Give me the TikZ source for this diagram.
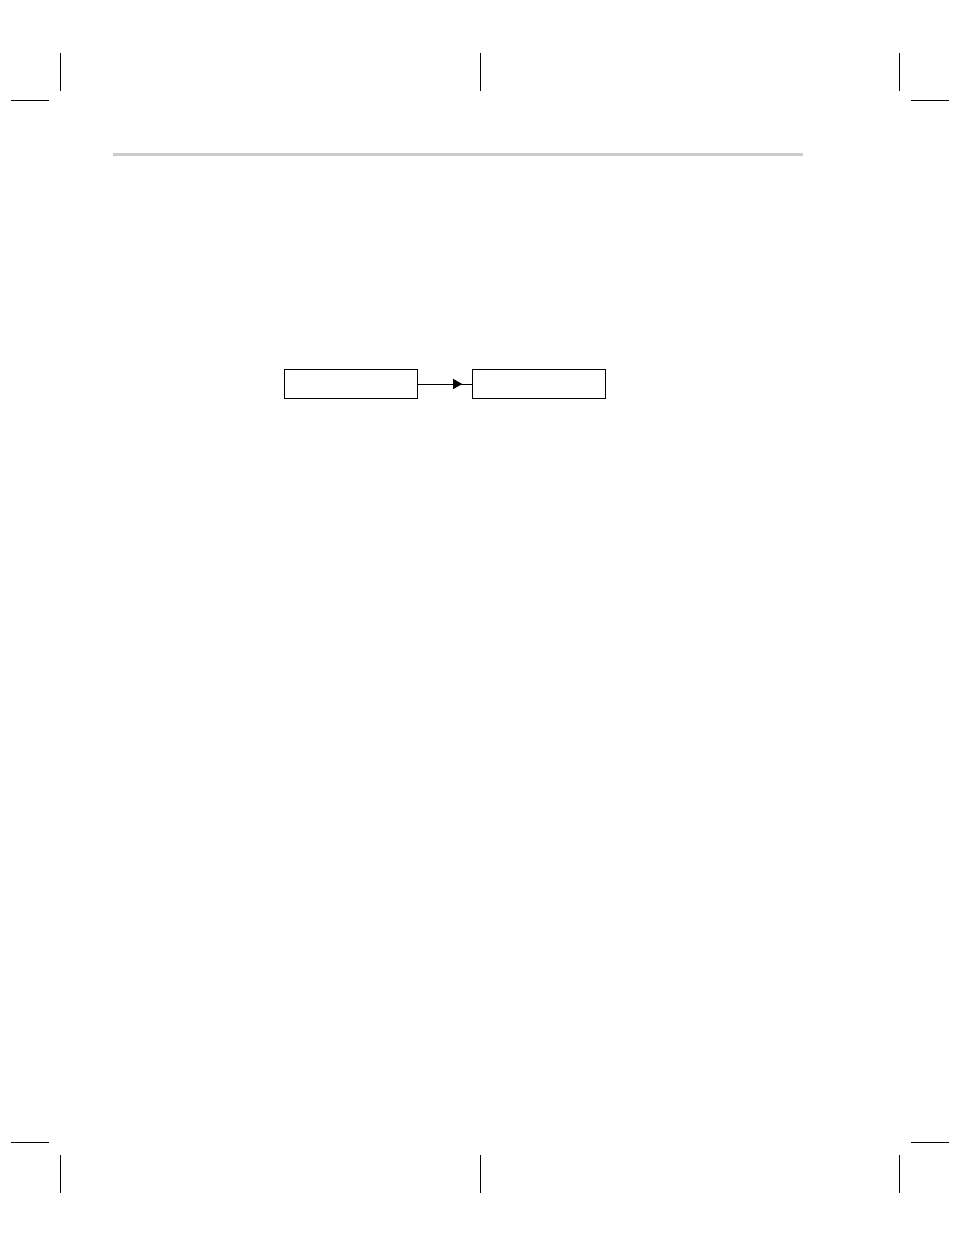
\documentclass[tikz,border=0pt]{standalone}
\usetikzlibrary{positioning,arrows.meta,decorations.markings}
\begin{document}
\begin{tikzpicture}
      [x=0.5pt, y=-0.5pt,
      every node/.style={rectangle, inner sep=0pt, draw=black, line width=0.6pt,
        minimum width=66.5pt, minimum height=14.3pt},
      cropmark/.style={line width=0.5pt},
      rule/.style={line width=1.5pt, draw=black!20},
      flow/.style={line width=0.5pt, postaction={decorate},
        decoration={markings, mark=at position 0.82 with {\arrow{Triangle[length=4.5pt,width=5pt]}}}},
      ]
      \useasboundingbox (0,0) rectangle (954,1235);
      % crop marks
      \foreach \x in {60,480,899}
        \draw[cropmark] (\x,53) -- (\x,91) (\x,1155) -- (\x,1193);
      \foreach \x in {11,911}
        \draw[cropmark] (\x,101) -- ++(38,0) (\x,1142) -- ++(38,0);
      \draw[rule] (113,155) -- (803,155);
      \node (first) at (350.8,384) {};
      \node[right=27pt of first] (second) {};
      \draw[flow] (first) -- (second);
      \end{tikzpicture}
\end{document}
